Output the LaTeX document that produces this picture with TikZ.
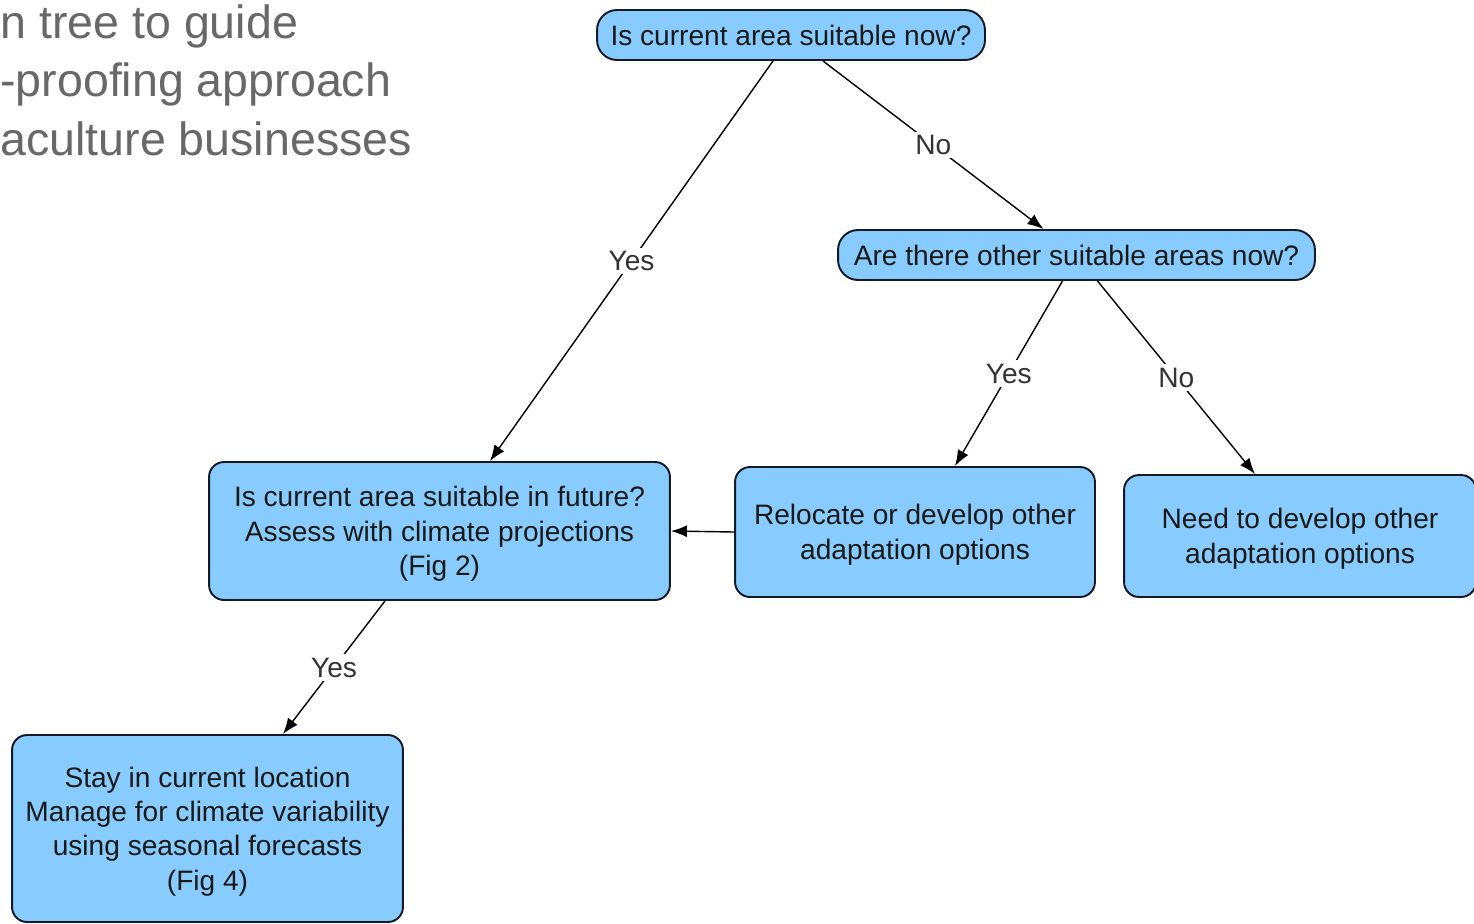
\documentclass[tikz,border=0pt]{standalone}
\usepackage{fontspec}
\setmainfont{Liberation Sans}
\usepackage{tikz}
\usetikzlibrary{arrows.meta}
\definecolor{boxblue}{RGB}{136,204,255}
\definecolor{boxline}{RGB}{22,26,40}
\definecolor{titlegrey}{RGB}{104,104,104}

\begin{document}
\begin{tikzpicture}[x=0.02cm, y=-0.02cm,
  box/.style={shape=rectangle, rounded corners=0.3cm, draw=boxline, line width=1.1pt,
    fill=boxblue, align=center, text=black!90, inner sep=0pt,
    font=\fontsize{16}{19.6}\selectfont},
  ans/.style={fill=white, inner sep=2pt, text=black!80, font=\fontsize{16}{19.6}\selectfont},
  every edge/.style={draw, line width=0.8pt, -{Latex[length=0.32cm,width=0.24cm]}}]
\useasboundingbox (0,0) rectangle (1474,923);

% heading, cut at the left edge
\node[anchor=north west, align=left, inner sep=0pt, text=titlegrey,
  font=\fontsize{26.5}{33.5}\selectfont] (T) at (0,4) {n tree to guide\\-proofing approach\\aculture businesses};

\node[box, minimum width=7.76cm, minimum height=1cm, rounded corners=0.4cm](A) at (791,35) {Is current area suitable now?};
\node[box, minimum width=9.54cm, minimum height=1cm, rounded corners=0.4cm](B) at (1076.5,255) {Are there other suitable areas now?};
\node[box, text depth=0pt, minimum width=9.22cm, minimum height=2.76cm](C) at (439.5,531) {Is current area suitable in future?\\Assess with climate projections\\(Fig 2)};
\node[box, text depth=0pt, minimum width=7.2cm, minimum height=2.6cm](D) at (915,532) {Relocate or develop other\\adaptation options};
\node[box, text depth=0pt, minimum width=7.04cm, minimum height=2.44cm](E) at (1300,536) {Need to develop other\\adaptation options};
\node[box, text depth=0pt, minimum width=7.82cm, minimum height=3.74cm](F) at (207.5,828.5) {Stay in current location\\Manage for climate variability\\using seasonal forecasts\\(Fig 4)};

\path ([xshift=-0.36cm]A.south) edge node[ans] {Yes} ([xshift=1.01cm]C.north);
\path ([xshift=0.64cm]A.south) edge node[ans] {No} ([xshift=-0.66cm]B.north);
\path ([xshift=-0.28cm]B.south) edge node[ans] {Yes} ([xshift=0.8cm]D.north);
\path ([xshift=0.42cm]B.south) edge node[ans] {No} ([xshift=-0.9cm]E.north);
\path (D.west) edge (C.east);
\path ([xshift=-1.09cm]C.south) edge node[ans] {Yes} ([xshift=1.51cm]F.north);
\end{tikzpicture}
\end{document}
